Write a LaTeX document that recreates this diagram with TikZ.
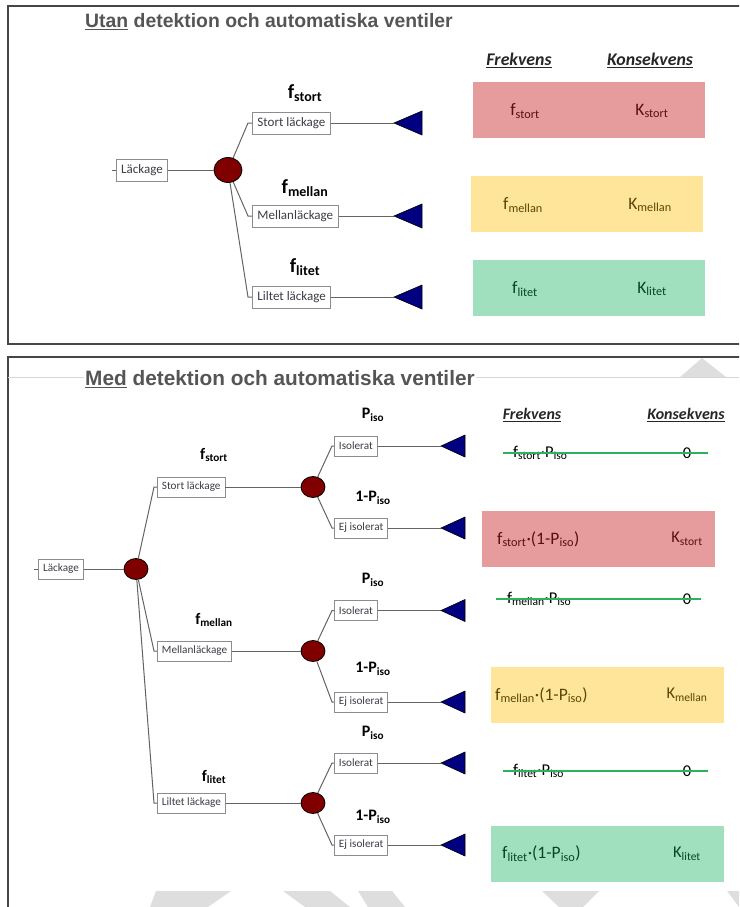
\documentclass[tikz,border=0pt]{standalone}
\usepackage{fontspec}
\setmainfont{Carlito}
\newfontfamily\titlefont{Liberation Sans}
\usepackage{xcolor}
\usetikzlibrary{shapes.geometric,positioning,calc}

\definecolor{framegray}{RGB}{70,70,70}
\definecolor{titlegray}{RGB}{85,85,85}
\definecolor{rulegray}{RGB}{215,215,215}
\definecolor{markgray}{RGB}{222,222,222}
\definecolor{boxgray}{RGB}{140,140,140}
\definecolor{boxtext}{RGB}{60,60,70}
\definecolor{linegray}{RGB}{100,100,100}
\definecolor{chancered}{RGB}{128,0,0}
\definecolor{endnavy}{RGB}{0,0,128}
\definecolor{redfill}{RGB}{230,155,157}
\definecolor{yellowfill}{RGB}{255,229,153}
\definecolor{greenfill}{RGB}{160,224,190}
\definecolor{redtext}{RGB}{90,15,15}
\definecolor{yellowtext}{RGB}{90,70,5}
\definecolor{greentext}{RGB}{5,70,35}
\definecolor{strikegreen}{RGB}{40,180,90}

\tikzset{
  panelframe/.style={draw=framegray, line width=1.5pt},
  slidetitle/.style={font=\titlefont\bfseries\fontsize{19.4}{21}\selectfont, text=titlegray, inner sep=1pt},
  evbox/.style={draw=boxgray, fill=white, text=boxtext, line width=0.9pt, inner xsep=5pt, inner ysep=0pt, minimum height=22pt, font=\fontsize{13}{14}\selectfont},
  evboxs/.style={evbox, inner xsep=4.5pt, minimum height=20pt, font=\fontsize{11.2}{12}\selectfont},
  chance/.style={ellipse, draw=black, fill=chancered, line width=0.8pt, minimum width=28pt, minimum height=25pt, inner sep=0pt},
  chances/.style={chance, minimum width=24pt, minimum height=21pt},
  branch/.style={draw=linegray, line width=1pt},
  endtri/.style={draw=black, fill=endnavy, line width=0.6pt},
  prob/.style={font=\bfseries\fontsize{20}{22}\selectfont},
  probs/.style={font=\bfseries\fontsize{16}{18}\selectfont},
  colhead/.style={font=\bfseries\itshape\fontsize{17.8}{20}\selectfont, text=black!85},
  colheads/.style={font=\bfseries\itshape\fontsize{16}{18}\selectfont, text=black!85},
  result/.style={minimum width=232pt, minimum height=56pt, inner sep=0pt},
  restext/.style={font=\fontsize{17.5}{19}\selectfont},
  restexts/.style={font=\fontsize{16.5}{18}\selectfont, inner sep=0pt}
}

\begin{document}
\begin{tikzpicture}[x=1pt, y=-1pt]
    \useasboundingbox (0,0) rectangle (739,907);
    \clip (0,0) rectangle (739,907);

    % Upper panel
    \draw[panelframe] (8,6) rectangle (760,344);
    \node[slidetitle, anchor=west] (title1) at (84,22) {\underline{Utan} detektion och automatiska ventiler};

    \node[evbox] (lk1) at (142,170) {Läckage};
    \coordinate (lk1in) at (112,170);
    \draw[branch] (lk1in) -- (lk1.west);
    \node[chance] (c1) at (228,170) {};
    \draw[branch] (lk1) -- (c1);

    \foreach \name/\y/\txt/\lab/\ly in {a/123/Stort läckage/stort/93, b/216/Mellanläckage/mellan/188, c/297/Liltet läckage/litet/267} {
        \node[evbox, anchor=west] (b1\name) at (252,\y) {\txt};
        \coordinate (e1\name) at (248,\y);
        \draw[branch] (c1) -- (e1\name) -- (b1\name.west);
        \coordinate (tr1\name) at (394,\y);
        \draw[branch] (b1\name.east) -- (tr1\name);
        \draw[endtri] (tr1\name) -- ++(28,-12) -- ++(0,24) -- cycle;
        \node[prob] (p1\name) at (305,\ly) {f\textsubscript{\lab}};
    }

    % Frequency / consequence, upper
    \node[colhead] (fr1) at (519,60) {\underline{Frekvens}};
    \node[colhead] (ko1) at (650,60) {\underline{Konsekvens}};
    \foreach \name/\x/\y/\col/\tcol/\lab in {a/589/110/redfill/redtext/stort, b/587/204/yellowfill/yellowtext/mellan, c/589/288/greenfill/greentext/litet} {
        \node[result, fill=\col] (r1\name) at (\x,\y) {};
        \node[restext, text=\tcol] (rf1\name) at ([xshift=-64pt, yshift=-1pt]r1\name.center) {f\textsubscript{\lab}};
        \node[restext, text=\tcol] (rk1\name) at ([xshift=63pt, yshift=-1pt]r1\name.center) {K\textsubscript{\lab}};
    }

    % Lower panel
    \draw[panelframe] (8,357) rectangle (760,930);
    \draw[rulegray, line width=1pt] (8,377) -- (739,377);
    \fill[markgray] (680,377) -- (702,358) -- (726,377) -- cycle;
    \node[slidetitle, fill=white, anchor=west, font=\titlefont\bfseries\fontsize{20.8}{22}\selectfont] (title2) at (84,379) {\underline{Med} detektion och automatiska ventiler};

    % Watermark pieces
    \fill[markgray] (156,891) -- (231,891) -- (208,907) -- (150,907) -- cycle;
    \fill[markgray] (283,891) -- (330,891) -- (350,907) -- (305,907) -- cycle;
    \fill[markgray] (358,891) -- (392,891) -- (405,907) -- (368,907) -- cycle;
    \fill[markgray] (542,891) -- (599,891) -- (583,907) -- (559,907) -- cycle;
    \fill[markgray] (727,891) -- (739,891) -- (739,907) -- cycle;

    \node[evboxs] (lk2) at (61,569) {Läckage};
    \coordinate (lk2in) at (34,569);
    \draw[branch] (lk2in) -- (lk2.west);
    \node[chances] (c2) at (136,569) {};
    \draw[branch] (lk2) -- (c2);

    \foreach \name/\y/\txt/\lab/\fy/\iy/\ey/\py/\qy in {a/487/Stort läckage/stort/455/446/528/415/498, b/651/Mellanläckage/mellan/620/610.5/702/580/669, c/803/Liltet läckage/litet/777/763/845/733/817} {
        \node[evboxs, anchor=west] (b2\name) at (157,\y) {\txt};
        \coordinate (e2\name) at (154,\y);
        \draw[branch] (c2) -- (e2\name) -- (b2\name.west);
        \node[probs] (p2\name) at (214,\fy) {f\textsubscript{\lab}};
        \node[chances] (s2\name) at (313,\y) {};
        \draw[branch] (b2\name.east) -- (s2\name);
        % isolated / not isolated
        \node[evboxs, anchor=west] (iso\name) at (334,\iy) {Isolerat};
        \node[evboxs, anchor=west] (ej\name) at (334,\ey) {Ej isolerat};
        \coordinate (ei\name) at (332,\iy);
        \coordinate (ee\name) at (332,\ey);
        \draw[branch] (s2\name) -- (ei\name) -- (iso\name.west);
        \draw[branch] (s2\name) -- (ee\name) -- (ej\name.west);
        \node[probs] (pi\name) at (373,\py) {P\textsubscript{iso}};
        \node[probs] (qi\name) at (373,\qy) {1-P\textsubscript{iso}};
        \coordinate (ti\name) at (441,\iy);
        \coordinate (te\name) at (441,\ey);
        \draw[branch] (iso\name.east) -- (ti\name);
        \draw[branch] (ej\name.east) -- (te\name);
        \draw[endtri] (ti\name) -- ++(24,-11) -- ++(0,22) -- cycle;
        \draw[endtri] (te\name) -- ++(24,-11) -- ++(0,22) -- cycle;
    }

    % Frequency / consequence, lower
    \node[colheads] (fr2) at (532,415) {\underline{Frekvens}};
    \node[colheads] (ko2) at (686,415) {\underline{Konsekvens}};

    \foreach \name/\lab/\sx/\sy/\la/\lb in {a/stort/513/453/503/708, b/mellan/507/599/496/701, c/litet/513/771/503/708} {
        \node[restexts, anchor=west] (sf\name) at (\sx,\sy) {f\textsubscript{\lab}·P\textsubscript{Iso}};
        \node[restexts] (sz\name) at (687,\sy) {0};
        \coordinate (sl\name) at (\la,\sy);
        \coordinate (sr\name) at (\lb,\sy);
        \draw[strikegreen, line width=1.2pt] (sl\name) -- (sr\name);
    }

    \foreach \name/\x/\y/\col/\tcol/\lab/\tx in {a/598.5/539/redfill/redtext/stort/497, b/607/695/yellowfill/yellowtext/mellan/495, c/607/853.5/greenfill/greentext/litet/502} {
        \node[result, minimum width=233pt, fill=\col] (r2\name) at (\x,\y) {};
        \node[restexts, text=\tcol, anchor=west, font=\fontsize{17.5}{19}\selectfont] (rf2\name) at (\tx,\y) {f\textsubscript{\lab}·(1-P\textsubscript{iso})};
        \node[restexts, text=\tcol] (rk2\name) at (687,\y) {K\textsubscript{\lab}};
    }
\end{tikzpicture}
\end{document}
